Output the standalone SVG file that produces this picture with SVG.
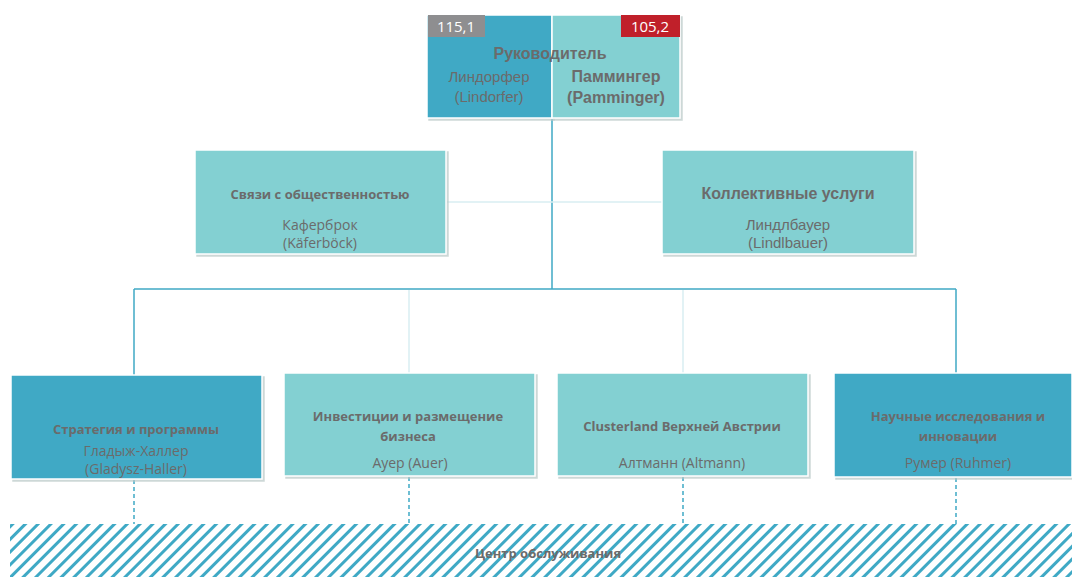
<svg xmlns="http://www.w3.org/2000/svg" width="1072" height="577" viewBox="0 0 1072 577">
<defs>
<pattern id="hatch" patternUnits="userSpaceOnUse" width="9" height="9" patternTransform="rotate(45)">
<rect width="9" height="9" fill="#ffffff"/>
<rect x="0" y="0" width="3" height="9" fill="#3FA9C5"/>
</pattern>
<filter id="sh" x="-5%" y="-5%" width="110%" height="110%">
<feDropShadow dx="2" dy="2" stdDeviation="0.6" flood-color="#B8C8C6" flood-opacity="0.7"/>
</filter>
</defs>
<style>
.dark{fill:#3FA9C5;stroke:#ffffff;stroke-width:1.5;filter:url(#sh)}
.light{fill:#83D0D2;stroke:#ffffff;stroke-width:1.5;filter:url(#sh)}
text{fill:#6B6B6B;text-anchor:middle;font-family:"Open Sans","Noto Sans",sans-serif}
.b{font-weight:bold;font-size:13px}
.n{font-size:14px}
.a{font-family:"Liberation Sans",Arial,sans-serif;font-size:15px}
.ab{font-family:"Liberation Sans",Arial,sans-serif;font-weight:bold;font-size:16px}
.ln{stroke:#3FA9C5;stroke-width:1.5;fill:none}
.lt{stroke:#D8EEF2;stroke-width:1.5;fill:none}
.ds{stroke:#3FA9C5;stroke-width:1.5;stroke-dasharray:4 3;fill:none}
.badge{fill:#ffffff;font-family:"Open Sans","Noto Sans",sans-serif;font-size:15px}
</style>
<g id="connectors">
<line class="ln" x1="552" y1="118" x2="552" y2="289"/>
<line class="lt" x1="447" y1="202" x2="662" y2="202"/>
<line class="ln" x1="134" y1="289" x2="956" y2="289"/>
<line class="ln" x1="134" y1="289" x2="134" y2="375"/>
<line class="lt" x1="409" y1="290" x2="409" y2="373"/>
<line class="lt" x1="683" y1="290" x2="683" y2="373"/>
<line class="ln" x1="956" y1="289" x2="956" y2="373"/>
<line class="ds" x1="134" y1="480" x2="134" y2="524"/>
<line class="ds" x1="409" y1="477" x2="409" y2="524"/>
<line class="ds" x1="683" y1="477" x2="683" y2="524"/>
<line class="ds" x1="956" y1="478" x2="956" y2="524"/>
</g>
<g id="head">
<rect class="dark" x="427" y="15" width="125" height="103"/>
<rect class="light" x="552" y="15" width="128" height="103"/>
<rect x="428" y="15" width="57" height="22" fill="#8E8E90"/>
<text class="badge" x="456" y="32">115,1</text>
<rect x="621" y="15" width="59" height="22" fill="#C0202A"/>
<text class="badge" x="650" y="32">105,2</text>
<text class="ab" x="550" y="59">Руководитель</text>
<text class="a" x="489" y="82">Линдорфер</text>
<text class="a" x="489" y="102">(Lindorfer)</text>
<text class="ab" x="616" y="82">Паммингер</text>
<text class="ab" x="616" y="103">(Pamminger)</text>
</g>
<g id="pr">
<rect class="light" x="195" y="150" width="251" height="104"/>
<text class="b" x="320" y="199">Связи с общественностью</text>
<text class="n" x="320" y="230">Каферброк</text>
<text class="n" x="320" y="248">(Käferböck)</text>
</g>
<g id="services">
<rect class="light" x="662" y="150" width="252" height="104"/>
<text class="ab" x="788" y="199">Коллективные услуги</text>
<text class="a" x="788" y="230">Линдлбауер</text>
<text class="a" x="788" y="248">(Lindlbauer)</text>
</g>
<g id="strategy">
<rect class="dark" x="11" y="375" width="251" height="104"/>
<text class="b" x="136" y="434">Стратегия и программы</text>
<text class="n" x="136" y="456">Гладыж-Халлер</text>
<text class="n" x="136" y="474">(Gladysz-Haller)</text>
</g>
<g id="invest">
<rect class="light" x="284" y="373" width="251" height="103"/>
<text class="b" x="408" y="421">Инвестиции и размещение</text>
<text class="b" x="408" y="441">бизнеса</text>
<text class="n" x="410" y="468">Ауер (Auer)</text>
</g>
<g id="cluster">
<rect class="light" x="557" y="373" width="251" height="103"/>
<text class="b" x="682" y="431">Clusterland Верхней Австрии</text>
<text class="n" x="682" y="468">Алтманн (Altmann)</text>
</g>
<g id="research">
<rect class="dark" x="834" y="373" width="238" height="104"/>
<text class="b" x="958" y="421">Научные исследования и</text>
<text class="b" x="958" y="441">инновации</text>
<text class="n" x="958" y="468">Румер (Ruhmer)</text>
</g>
<g id="service-center">
<rect x="10" y="524" width="1062" height="53" fill="url(#hatch)"/>
<text class="b" x="548" y="558">Центр обслуживания</text>
</g>
</svg>
